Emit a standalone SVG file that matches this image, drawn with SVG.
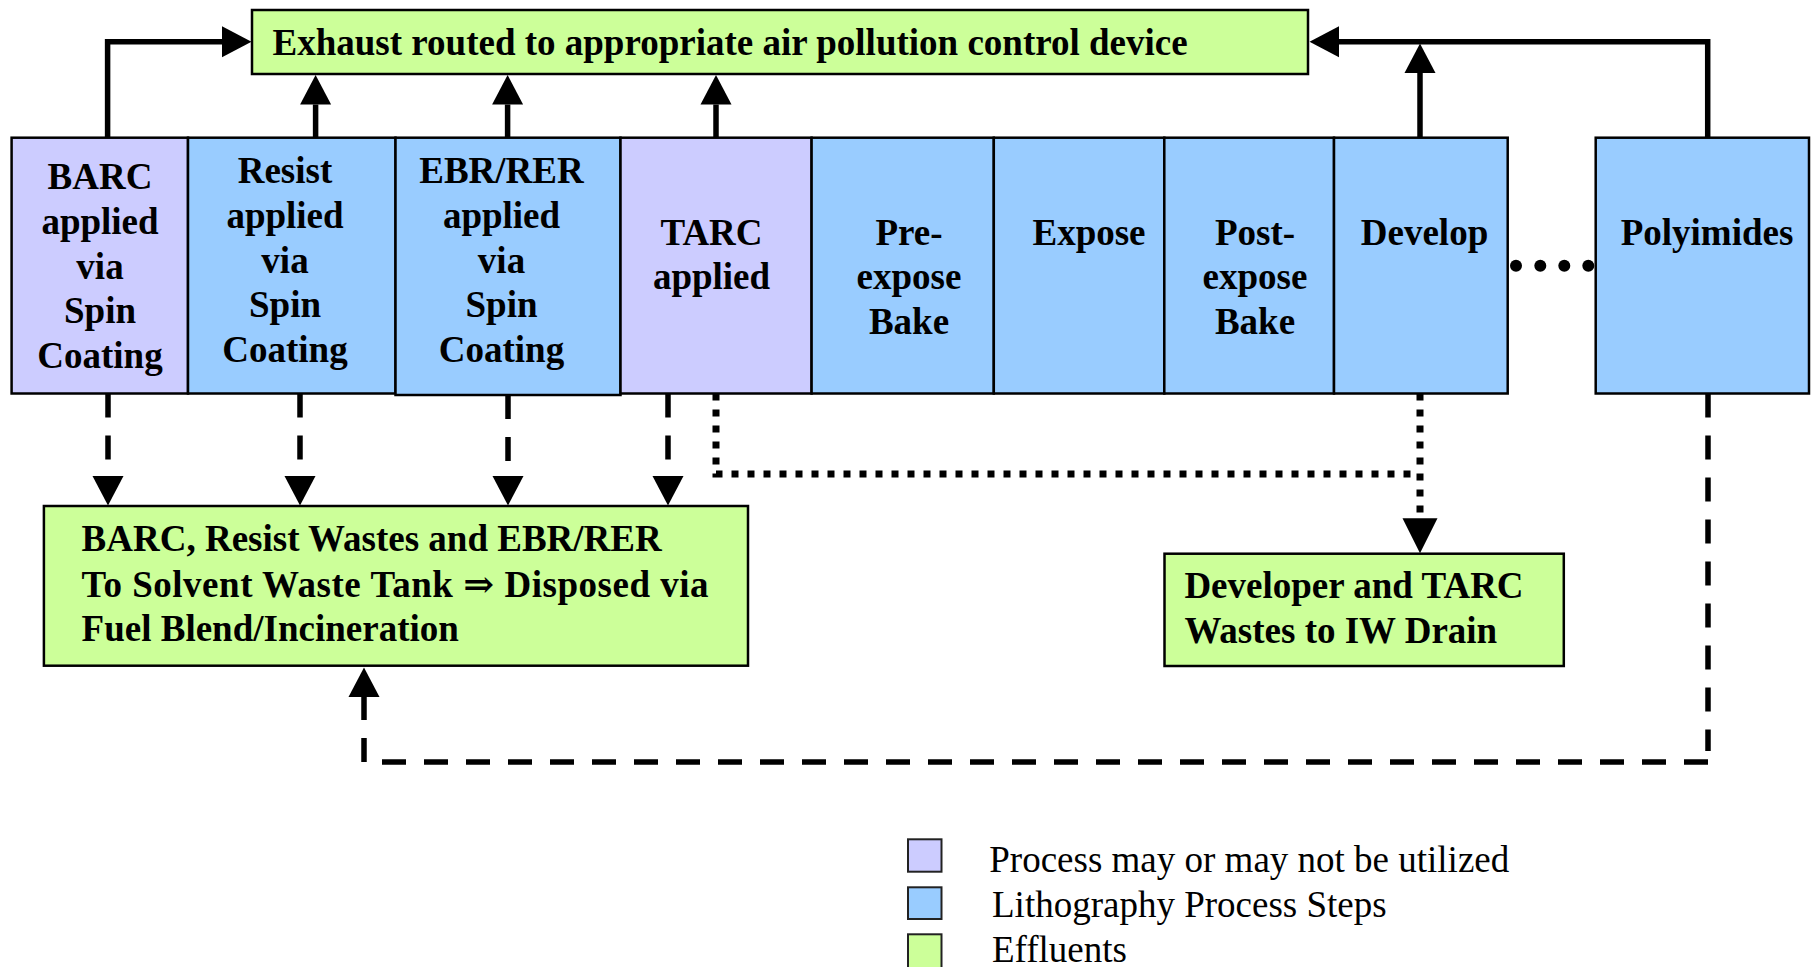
<svg xmlns="http://www.w3.org/2000/svg" width="1812" height="967" viewBox="0 0 1812 967">
<style>
.box{stroke:#000;stroke-width:2.5}
.opt{fill:#CCCCFF}
.lith{fill:#99CCFF}
.eff{fill:#CCFF99}
.t{font-family:"Liberation Serif","Times New Roman","DejaVu Serif",serif;font-weight:bold;font-size:37px;fill:#000}
.tc{text-anchor:middle}
.lg{font-family:"Liberation Serif","Times New Roman","DejaVu Serif",serif;font-size:37px;fill:#000}
.solid{fill:none;stroke:#000;stroke-width:5.5}
.dash{fill:none;stroke:#000;stroke-width:5.5;stroke-dasharray:24 18}
.dot{fill:none;stroke:#000;stroke-width:7;stroke-dasharray:7 9}
.lgbox{stroke:#222;stroke-width:2}
</style>
<defs>
<marker id="ah" markerUnits="userSpaceOnUse" markerWidth="30" markerHeight="32" refX="0" refY="15.5" orient="auto" viewBox="0 0 30 31">
<path d="M0,0 L29.5,15.5 L0,31 Z" fill="#000"/>
</marker>
<marker id="ahL" markerUnits="userSpaceOnUse" markerWidth="36" markerHeight="36" refX="0" refY="17.5" orient="auto" viewBox="0 0 36 35">
<path d="M0,0 L35,17.5 L0,35 Z" fill="#000"/>
</marker>
</defs>

<g id="exhaust">
<rect class="box eff" x="252" y="10" width="1056" height="64"/>
<text class="t" x="272.5" y="55">Exhaust routed to appropriate air pollution control device</text>
</g>

<g id="barc">
<rect class="box opt" x="11.6" y="137.7" width="176.4" height="255.8"/>
<text class="t tc" x="100" y="189.3">BARC</text>
<text class="t tc" x="100" y="234">applied</text>
<text class="t tc" x="100" y="278.6">via</text>
<text class="t tc" x="100" y="323.2">Spin</text>
<text class="t tc" x="100" y="367.9">Coating</text>
</g>

<g id="resist">
<rect class="box lith" x="188" y="137.7" width="207.5" height="255.8"/>
<text class="t tc" x="285" y="183.3">Resist</text>
<text class="t tc" x="285" y="228">applied</text>
<text class="t tc" x="285" y="272.7">via</text>
<text class="t tc" x="285" y="317.4">Spin</text>
<text class="t tc" x="285" y="362.1">Coating</text>
</g>

<g id="ebr">
<rect class="box lith" x="395.5" y="137.7" width="225" height="257.3"/>
<text class="t tc" x="501.5" y="183.3">EBR/RER</text>
<text class="t tc" x="501.5" y="228">applied</text>
<text class="t tc" x="501.5" y="272.7">via</text>
<text class="t tc" x="501.5" y="317.4">Spin</text>
<text class="t tc" x="501.5" y="362.1">Coating</text>
</g>

<g id="tarc">
<rect class="box opt" x="620.5" y="137.7" width="191.1" height="255.8"/>
<text class="t tc" x="711.5" y="245">TARC</text>
<text class="t tc" x="711.5" y="289">applied</text>
</g>

<g id="preexpose">
<rect class="box lith" x="811.6" y="137.7" width="182.2" height="255.8"/>
<text class="t tc" x="909" y="245">Pre-</text>
<text class="t tc" x="909" y="289">expose</text>
<text class="t tc" x="909" y="333.5">Bake</text>
</g>

<g id="expose">
<rect class="box lith" x="993.8" y="137.7" width="170.5" height="255.8"/>
<text class="t tc" x="1089" y="245">Expose</text>
</g>

<g id="postexpose">
<rect class="box lith" x="1164.3" y="137.7" width="169.7" height="255.8"/>
<text class="t tc" x="1255" y="245">Post-</text>
<text class="t tc" x="1255" y="289">expose</text>
<text class="t tc" x="1255" y="333.5">Bake</text>
</g>

<g id="develop">
<rect class="box lith" x="1334" y="137.7" width="173.7" height="255.8"/>
<text class="t tc" x="1424.5" y="245">Develop</text>
</g>

<g id="polyimides">
<rect class="box lith" x="1595.7" y="137.7" width="213.3" height="255.8"/>
<text class="t tc" x="1707" y="245">Polyimides</text>
</g>

<g id="solventwaste">
<rect class="box eff" x="43.9" y="506" width="704.1" height="159.7"/>
<text class="t" x="81.6" y="551">BARC, Resist Wastes and EBR/RER</text>
<text class="t" x="81.6" y="596.5" textLength="627" lengthAdjust="spacing">To Solvent Waste Tank ⇒ Disposed via</text>
<text class="t" x="81.6" y="640.5">Fuel Blend/Incineration</text>
</g>

<g id="iwdrain">
<rect class="box eff" x="1164.5" y="553.7" width="399.3" height="112.3"/>
<text class="t" x="1184.4" y="598.3">Developer and TARC</text>
<text class="t" x="1184.4" y="643.3">Wastes to IW Drain</text>
</g>

<g id="connectors">
<path class="solid" d="M107.6,137.7 V41.8 H222" marker-end="url(#ah)"/>
<path class="solid" d="M315.6,137.7 V104.5" marker-end="url(#ah)"/>
<path class="solid" d="M507.6,137.7 V104.5" marker-end="url(#ah)"/>
<path class="solid" d="M716,137.7 V104.5" marker-end="url(#ah)"/>
<path class="solid" d="M1420,137.7 V73" marker-end="url(#ah)"/>
<path class="solid" d="M1707.7,137.7 V41.8 H1339" marker-end="url(#ah)"/>

<path class="dash" d="M108,393.5 V476" marker-end="url(#ah)"/>
<path class="dash" d="M300,393.5 V476" marker-end="url(#ah)"/>
<path class="dash" d="M508,395 V476" marker-end="url(#ah)"/>
<path class="dash" d="M668,393.5 V476" marker-end="url(#ah)"/>

<path class="dash" d="M1708,393.5 V751"/>
<path class="dash" d="M1708,762 H364"/>
<path class="dash" d="M364,762 V697" marker-end="url(#ah)"/>

<path class="dot" d="M716,393.5 V474 H1413"/>
<path class="dot" d="M1420,393.5 V518.3" marker-end="url(#ahL)"/>

<circle cx="1516" cy="265.7" r="6"/>
<circle cx="1540.3" cy="265.7" r="6"/>
<circle cx="1564.3" cy="265.7" r="6"/>
<circle cx="1588.3" cy="265.7" r="6"/>
</g>

<g id="legend">
<rect class="lgbox opt" x="908" y="839.3" width="33.5" height="32.4"/>
<rect class="lgbox lith" x="908" y="887.3" width="33.5" height="31.7"/>
<rect class="lgbox eff" x="908" y="934.3" width="33.5" height="34"/>
<text class="lg" x="989.3" y="871.7">Process may or may not be utilized</text>
<text class="lg" x="992" y="917.3">Lithography Process Steps</text>
<text class="lg" x="992" y="962">Effluents</text>
</g>
</svg>
